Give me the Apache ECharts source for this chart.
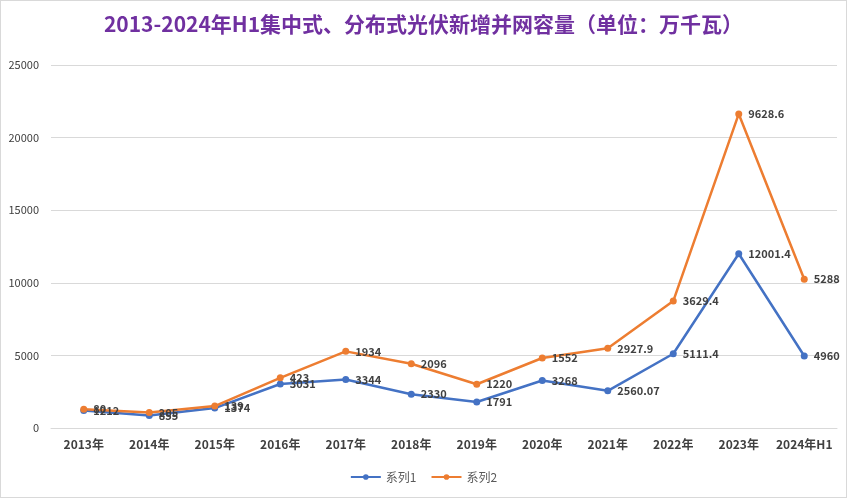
<!DOCTYPE html>
<html><head><meta charset="utf-8">
<script src="https://cdn.jsdelivr.net/npm/echarts@6/dist/echarts.min.js"></script>
<style>html,body{margin:0;padding:0;background:#fff}#c{width:847px;height:498px;box-sizing:border-box;border:1px solid #d9d9d9}</style>
</head><body><div id="c"></div>
<script>
const categories=['2013年','2014年','2015年','2016年','2017年','2018年','2019年','2020年','2021年','2022年','2023年','2024年H1'];
const series1=[1212,855,1374,3031,3344,2330,1791,3268,2560.07,5111.4,12001.4,4960];
const series2=[80,205,139,423,1934,2096,1220,1552,2927.9,3629.4,9628.6,5288];
const yTicks=[0,5000,10000,15000,20000,25000];
const chart=echarts.init(document.getElementById('c'));
const font='"Microsoft YaHei","Noto Sans CJK SC",sans-serif';
function lbl(){return {show:true,position:'right',distance:6,color:'#404040',fontSize:11,fontWeight:'bold',fontFamily:font};}
chart.setOption({
 animation:false,
 title:{text:'2013-2024年H1集中式、分布式光伏新增并网容量（单位：万千瓦）',left:'center',top:8,textStyle:{color:'#7030A0',fontSize:21,fontWeight:'bold',fontFamily:font}},
 legend:{bottom:9,itemGap:14,itemWidth:30,itemHeight:7,textStyle:{color:'#595959',fontSize:12,fontFamily:font},data:['系列1','系列2']},
 grid:{left:50,right:9,top:64,bottom:69,containLabel:false},
 xAxis:{type:'category',data:categories,boundaryGap:true,axisLine:{lineStyle:{color:'#d9d9d9'}},axisTick:{show:false},axisLabel:{interval:0,color:'#404040',fontSize:12,fontWeight:'bold',fontFamily:font,margin:10}},
 yAxis:{type:'value',min:yTicks[0],max:yTicks[yTicks.length-1],interval:5000,axisLine:{show:false},axisTick:{show:false},splitLine:{lineStyle:{color:'#d9d9d9'}},axisLabel:{formatter:v=>String(v),color:'#404040',fontSize:11,fontFamily:font,margin:12}},
 series:[
  {name:'系列1',type:'line',stack:'total',data:series1,symbol:'circle',symbolSize:7,itemStyle:{color:'#4472C4'},lineStyle:{width:2.5,color:'#4472C4'},label:lbl()},
  {name:'系列2',type:'line',stack:'total',data:series2,symbol:'circle',symbolSize:7,itemStyle:{color:'#ED7D31'},lineStyle:{width:2.5,color:'#ED7D31'},label:lbl()}
 ]
});
</script></body></html>
